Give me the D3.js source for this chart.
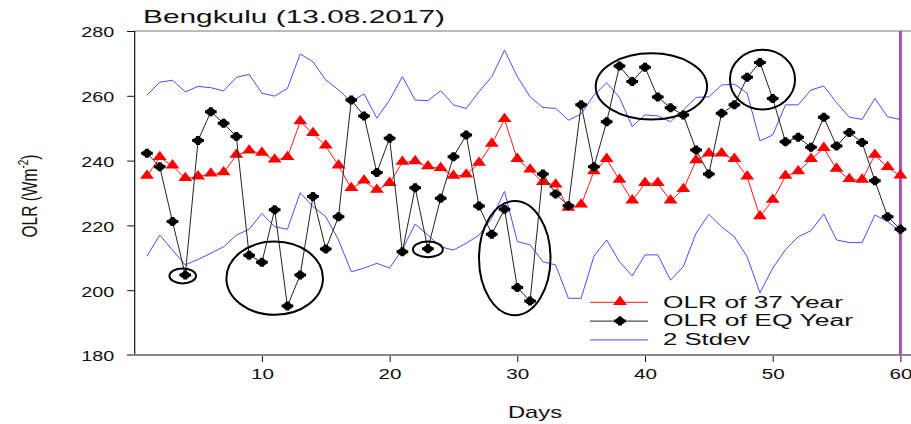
<!DOCTYPE html>
<html>
<head>
<meta charset="utf-8">
<script src="https://cdn.jsdelivr.net/npm/d3@7"></script>
<style>
  html, body { margin: 0; padding: 0; background: #fff; }
  svg { display: block; font-family: "Liberation Sans", Arial, sans-serif; }
</style>
</head>
<body>
<svg id="chart" width="911" height="424"></svg>
<script>
// Daily OLR at Bengkulu, 60 days around the 13.08.2017 event
const days = d3.range(1, 61);

// 37-year mean OLR (W m-2)
const olrMean = [
  235.2, 241.0, 238.4, 234.5, 235.0, 235.9, 236.3, 241.7, 243.0, 242.3,
  240.2, 241.0, 252.0, 248.4, 244.5, 238.4, 231.4, 233.7, 230.9, 233.0,
  239.5, 239.7, 238.1, 237.6, 235.2, 235.6, 239.2, 245.1, 252.7, 240.4,
  237.1, 233.3, 232.5, 225.3, 226.3, 236.6, 240.4, 234.0, 227.6, 233.0,
  233.0, 227.6, 231.1, 240.0, 242.1, 242.1, 240.4, 235.0, 222.7, 227.8,
  235.2, 236.6, 240.4, 243.8, 237.4, 234.2, 234.0, 241.7, 237.9, 235.3
];

// OLR during the earthquake year (W m-2)
const olrEq = [
  242.3, 238.1, 221.2, 204.7, 246.2, 255.1, 251.5, 247.4, 210.8, 208.6,
  224.8, 195.1, 204.7, 228.9, 212.7, 222.7, 258.7, 253.8, 236.3, 246.9,
  211.9, 231.6, 212.8, 228.4, 241.2, 247.9, 226.0, 217.3, 225.0, 200.8,
  196.7, 235.9, 229.7, 226.1, 257.2, 238.1, 252.0, 269.2, 264.4, 268.8,
  259.6, 256.3, 254.1, 243.3, 235.9, 254.6, 257.2, 265.7, 270.3, 259.2,
  245.8, 247.2, 244.1, 253.4, 244.5, 248.7, 245.6, 233.8, 222.7, 218.8
];

// Mean + 2 standard deviations
const stdUpper = [
  260.2, 264.2, 264.8, 261.2, 262.9, 262.5, 261.5, 265.7, 266.6, 260.8,
  259.9, 262.3, 272.9, 270.5, 264.9, 261.8, 258.2, 260.6, 253.1, 258.7,
  265.9, 258.7, 258.5, 261.6, 257.2, 256.1, 261.3, 265.9, 274.1, 265.9,
  259.7, 256.4, 256.1, 252.5, 254.4, 260.2, 264.0, 259.5, 250.5, 254.1,
  253.8, 252.0, 255.6, 259.5, 259.7, 263.3, 263.6, 260.8, 246.1, 247.9,
  257.2, 257.2, 261.8, 263.0, 257.9, 253.4, 252.7, 259.2, 253.5, 252.7
];

// Mean - 2 standard deviations
const stdLower = [
  210.5, 217.0, 212.4, 207.8, 209.5, 211.4, 213.4, 217.0, 218.8, 223.7,
  219.6, 218.8, 230.1, 225.8, 222.7, 215.5, 205.7, 206.8, 208.3, 206.8,
  212.6, 220.4, 217.0, 213.4, 212.4, 214.5, 217.0, 222.2, 230.5, 215.0,
  214.0, 208.8, 207.8, 197.5, 197.5, 210.5, 215.5, 208.8, 204.4, 210.9,
  210.9, 203.1, 207.3, 217.6, 223.4, 219.6, 216.5, 210.3, 199.2, 206.8,
  212.5, 216.5, 218.4, 223.5, 215.5, 214.7, 214.7, 223.2, 221.2, 218.1
];

// Anomalous episodes ringed on the chart: centre day, centre OLR, half-width (days), half-height (W m-2)
const highlights = [
  { day: 3.8,  olr: 204.4, dDay: 1.04, dOlr: 2.3 },
  { day: 11.0, olr: 203.7, dDay: 3.78, dOlr: 11.3 },
  { day: 23.0, olr: 212.6, dDay: 1.17, dOlr: 2.4 },
  { day: 29.8, olr: 209.9, dDay: 2.8,  dOlr: 17.6 },
  { day: 40.5, olr: 262.9, dDay: 4.36, dOlr: 10.2 },
  { day: 49.2, olr: 265.0, dDay: 2.55, dOlr: 9.2 }
];

const xTicks = [10, 20, 30, 40, 50, 60];
const yTicks = [180, 200, 220, 240, 260, 280];
const eventDay = 60;

const legendItems = [
  { label: "OLR of 37 Year", kind: "mean", width: 180 },
  { label: "OLR of EQ Year", kind: "eq", width: 190 },
  { label: "2 Stdev", kind: "std", width: 87 }
];

// The figure's lettering and markers are drawn wide (horizontally stretched)
const WIDE = 1.3;

const svg = d3.select("#chart");
const x = d3.scaleLinear().domain([0, 60]).range([134.2, 900.4]);
const y = d3.scaleLinear().domain([180, 280]).range([355, 31]);
const plotRight = 911;

function widen(sel, len) {
  sel.attr("textLength", len).attr("lengthAdjust", "spacingAndGlyphs");
}

// Frame: top border runs to the right edge
svg.append("line")
  .attr("x1", x(0)).attr("x2", plotRight)
  .attr("y1", y(280)).attr("y2", y(280))
  .attr("stroke", "#777").attr("stroke-width", 1.2);

// Y axis
const yAxis = svg.append("g")
  .attr("transform", `translate(${x(0)},0)`)
  .call(d3.axisLeft(y).tickValues(yTicks).tickSize(7).tickPadding(13));
yAxis.select(".domain").attr("stroke", "#111").attr("stroke-width", 1.2);
yAxis.selectAll(".tick line").attr("stroke", "#111");
yAxis.selectAll("text")
  .attr("font-size", 15.4).attr("fill", "#111").attr("dy", "0.38em")
  .attr("font-family", "Liberation Sans, Arial, sans-serif")
  .call(widen, 33);

// X axis
const xAxis = svg.append("g")
  .attr("transform", `translate(0,${y(180)})`)
  .call(d3.axisBottom(x).tickValues(xTicks).tickSize(7).tickPadding(7));
xAxis.select(".domain").remove();
xAxis.selectAll(".tick line").attr("stroke", "#111");
xAxis.selectAll("text")
  .attr("font-size", 14.5).attr("fill", "#111")
  .attr("font-family", "Liberation Sans, Arial, sans-serif")
  .call(widen, 23);
svg.append("line")
  .attr("x1", x(0) - 7).attr("x2", plotRight)
  .attr("y1", y(180)).attr("y2", y(180))
  .attr("stroke", "#888").attr("stroke-width", 2.2);

// Event-day marker
svg.append("line")
  .attr("x1", x(eventDay)).attr("x2", x(eventDay))
  .attr("y1", y(280)).attr("y2", y(180))
  .attr("stroke", "#a050b4").attr("stroke-width", 3);

const line = d3.line().x((d, i) => x(days[i])).y(d => y(d));

// ±2 standard deviation envelope
[stdUpper, stdLower].forEach(s => {
  svg.append("path").datum(s)
    .attr("d", line).attr("fill", "none")
    .attr("stroke", "#4a4aff").attr("stroke-width", 1);
});

// 37-year mean
svg.append("path").datum(olrMean)
  .attr("d", line).attr("fill", "none")
  .attr("stroke", "#ff1a1a").attr("stroke-width", 1);
const tri = d3.symbol().type(d3.symbolTriangle).size(50);
svg.append("g").selectAll("path").data(olrMean).join("path")
  .attr("d", tri)
  .attr("transform", (d, i) => `translate(${x(days[i])},${y(d) - 0.5}) scale(${WIDE},1)`)
  .attr("fill", "#ff0000");

// Earthquake year
svg.append("path").datum(olrEq)
  .attr("d", line).attr("fill", "none")
  .attr("stroke", "#222").attr("stroke-width", 1);

function eqMarker(g) {
  g.append("circle").attr("r", 3.5).attr("fill", "#000");
  g.append("path").attr("d", d3.symbol().type(d3.symbolCross).size(45)).attr("fill", "#000");
}
svg.append("g").selectAll("g").data(olrEq).join("g")
  .attr("transform", (d, i) => `translate(${x(days[i])},${y(d)}) scale(${WIDE},1)`)
  .each(function () { eqMarker(d3.select(this)); });

// Rings around anomalous episodes
svg.append("g").selectAll("ellipse").data(highlights).join("ellipse")
  .attr("cx", d => x(d.day))
  .attr("cy", d => y(d.olr))
  .attr("rx", d => x(d.dDay) - x(0))
  .attr("ry", d => y(0) - y(d.dOlr))
  .attr("fill", "none").attr("stroke", "#000").attr("stroke-width", 2);

// Legend
const legend = svg.append("g").attr("transform", "translate(590,302.3)");
legendItems.forEach((item, i) => {
  const row = legend.append("g").attr("transform", `translate(0,${i * 18.8})`);
  const color = item.kind === "mean" ? "#ff1a1a" : item.kind === "eq" ? "#222" : "#4a4aff";
  row.append("line").attr("x1", 0).attr("x2", 58).attr("y1", 0).attr("y2", 0)
    .attr("stroke", color).attr("stroke-width", 1);
  if (item.kind === "mean") {
    row.append("path").attr("d", tri).attr("transform", `translate(30,-0.5) scale(${WIDE},1)`).attr("fill", "#ff0000");
  } else if (item.kind === "eq") {
    eqMarker(row.append("g").attr("transform", `translate(30,0) scale(${WIDE},1)`));
  }
  row.append("text").attr("x", 73).attr("y", 5.2)
    .attr("font-size", 15.8).attr("fill", "#111").text(item.label)
    .call(widen, item.width);
});

// Titles
svg.append("text").attr("x", 143).attr("y", 23.3)
  .attr("font-size", 18.6).attr("fill", "#111").text("Bengkulu (13.08.2017)")
  .call(widen, 302);

svg.append("text").attr("x", 535).attr("y", 417.5)
  .attr("text-anchor", "middle").attr("font-size", 17).attr("fill", "#111").text("Days")
  .call(widen, 54);

const yLabel = svg.append("text")
  .attr("transform", "translate(36.5,196) scale(1.4,1) rotate(-90)")
  .attr("text-anchor", "middle").attr("font-size", 15.5).attr("fill", "#111");
yLabel.append("tspan").text("OLR (Wm");
yLabel.append("tspan").attr("dy", -6).attr("font-size", 10).text("-2");
yLabel.append("tspan").attr("dy", 6).text(")");
</script>
</body>
</html>
